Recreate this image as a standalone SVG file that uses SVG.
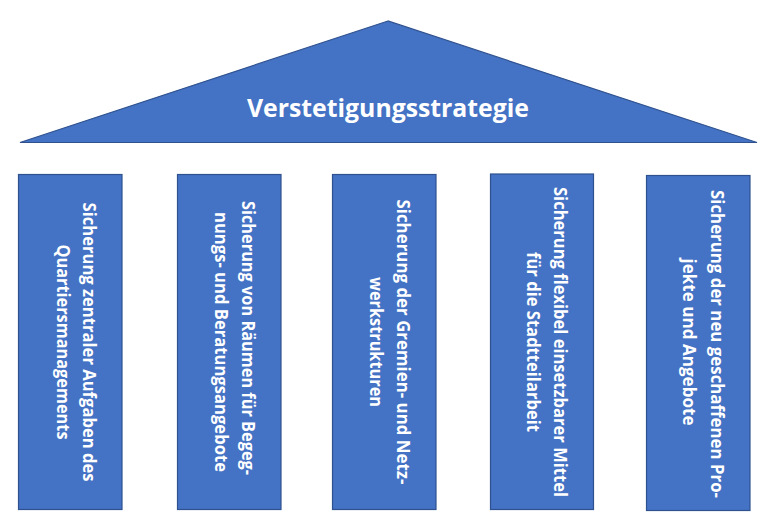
<svg xmlns="http://www.w3.org/2000/svg" width="770" height="527" viewBox="0 0 770 527">
<style>
.shape{fill:#4472C4;stroke:#2F528F;stroke-width:1.2}
.lbl{font-family:"Open Sans","Noto Sans","Liberation Sans",sans-serif;font-weight:bold;font-size:17px;fill:#FFFFFF;text-anchor:middle}
.title{font-family:"Open Sans","Noto Sans","Liberation Sans",sans-serif;font-weight:bold;font-size:25px;fill:#FFFFFF;text-anchor:middle}
</style>
<rect width="770" height="527" fill="#FFFFFF"/>
<g id="roof">
<polygon class="shape" points="388,21 20,142.5 757,142.5"/>
<text class="title" x="388" y="117" textLength="282" lengthAdjust="spacingAndGlyphs">Verstetigungsstrategie</text>
</g>
<g id="pillar1">
<rect class="shape" x="18.5" y="174.5" width="103.5" height="335"/>
<g transform="translate(83,342) rotate(90)"><text class="lbl" x="0" y="0" textLength="279" lengthAdjust="spacingAndGlyphs">Sicherung zentraler Aufgaben des</text></g>
<g transform="translate(57,342) rotate(90)"><text class="lbl" x="0" y="0" textLength="195" lengthAdjust="spacingAndGlyphs">Quartiersmanagements</text></g>
</g>
<g id="pillar2">
<rect class="shape" x="177.5" y="174.5" width="103.5" height="335"/>
<g transform="translate(242,338) rotate(90)"><text class="lbl" x="0" y="0" textLength="274" lengthAdjust="spacingAndGlyphs">Sicherung von Räumen für Begeg-</text></g>
<g transform="translate(215,342) rotate(90)"><text class="lbl" x="0" y="0" textLength="260" lengthAdjust="spacingAndGlyphs">nungs- und Beratungsangebote</text></g>
</g>
<g id="pillar3">
<rect class="shape" x="332.5" y="174.5" width="103.5" height="335"/>
<g transform="translate(397,342) rotate(90)"><text class="lbl" x="0" y="0" textLength="285" lengthAdjust="spacingAndGlyphs">Sicherung der Gremien- und Netz-</text></g>
<g transform="translate(370,342) rotate(90)"><text class="lbl" x="0" y="0" textLength="130" lengthAdjust="spacingAndGlyphs">werkstrukturen</text></g>
</g>
<g id="pillar4">
<rect class="shape" x="490.5" y="174" width="103" height="335.5"/>
<g transform="translate(554,342) rotate(90)"><text class="lbl" x="0" y="0" textLength="310" lengthAdjust="spacingAndGlyphs">Sicherung flexibel einsetzbarer Mittel</text></g>
<g transform="translate(527,342) rotate(90)"><text class="lbl" x="0" y="0" textLength="180" lengthAdjust="spacingAndGlyphs">für die Stadtteilarbeit</text></g>
</g>
<g id="pillar5">
<rect class="shape" x="646.5" y="175.5" width="103.5" height="335"/>
<g transform="translate(711,344) rotate(90)"><text class="lbl" x="0" y="0" textLength="308" lengthAdjust="spacingAndGlyphs">Sicherung der neu geschaffenen Pro-</text></g>
<g transform="translate(683,342) rotate(90)"><text class="lbl" x="0" y="0" textLength="167" lengthAdjust="spacingAndGlyphs">jekte und Angebote</text></g>
</g>
<g id="connectors"></g>
</svg>
